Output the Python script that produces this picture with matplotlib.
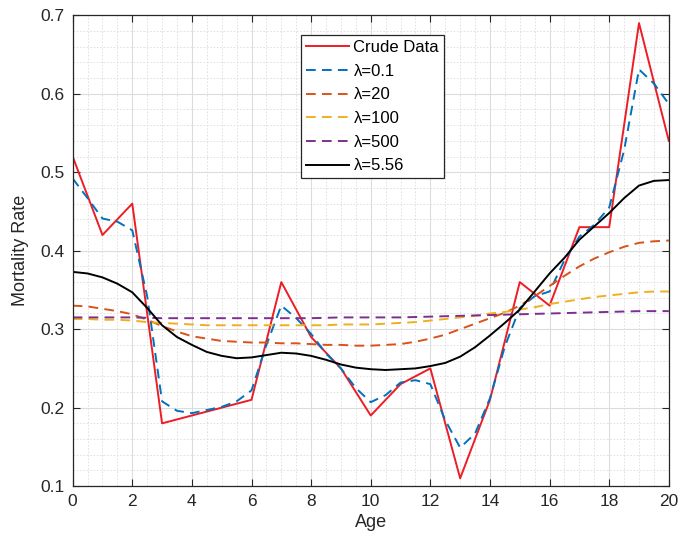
import matplotlib.pyplot as plt
import numpy as np

ages = list(range(0, 21))
crude = [0.52, 0.42, 0.46, 0.18, 0.19, 0.20, 0.21, 0.36, 0.29, 0.25, 0.19,
         0.23, 0.25, 0.11, 0.21, 0.36, 0.33, 0.43, 0.43, 0.69, 0.54]

ages_half = [a / 2 for a in range(0, 41)]
smooth_01 = [0.492, 0.467, 0.441, 0.437, 0.426, 0.342, 0.208, 0.196, 0.193, 0.197,
             0.201, 0.208, 0.222, 0.280, 0.330, 0.314, 0.294, 0.269, 0.250, 0.225,
             0.207, 0.216, 0.232, 0.235, 0.230, 0.184, 0.149, 0.167, 0.212, 0.278,
             0.327, 0.342, 0.348, 0.388, 0.418, 0.433, 0.455, 0.528, 0.631, 0.613,
             0.587]
smooth_20 = [0.330, 0.329, 0.326, 0.323, 0.319, 0.312, 0.304, 0.297, 0.291, 0.288,
             0.285, 0.284, 0.283, 0.283, 0.282, 0.282, 0.281, 0.280, 0.280, 0.279,
             0.279, 0.280, 0.281, 0.284, 0.288, 0.293, 0.300, 0.307, 0.314, 0.321,
             0.330, 0.342, 0.355, 0.368, 0.380, 0.390, 0.398, 0.405, 0.410, 0.412,
             0.413]
smooth_100 = [0.313, 0.313, 0.312, 0.312, 0.311, 0.309, 0.308, 0.307, 0.306, 0.305,
              0.305, 0.305, 0.305, 0.305, 0.305, 0.305, 0.305, 0.305, 0.306, 0.306,
              0.306, 0.307, 0.308, 0.309, 0.311, 0.313, 0.315, 0.317, 0.320, 0.322,
              0.325, 0.328, 0.332, 0.335, 0.338, 0.341, 0.343, 0.345, 0.347, 0.348,
              0.348]
smooth_500 = [0.315, 0.315, 0.315, 0.314, 0.314, 0.314, 0.314, 0.314, 0.314, 0.315,
              0.315, 0.315, 0.316, 0.317, 0.318, 0.319, 0.320, 0.321, 0.322, 0.323,
              0.323]
smooth_556 = [0.373, 0.371, 0.366, 0.358, 0.347, 0.327, 0.305, 0.290, 0.280, 0.271,
              0.266, 0.263, 0.264, 0.267, 0.270, 0.269, 0.266, 0.261, 0.255, 0.251,
              0.249, 0.248, 0.249, 0.250, 0.253, 0.257, 0.265, 0.277, 0.292, 0.308,
              0.325, 0.348, 0.371, 0.391, 0.414, 0.431, 0.448, 0.467, 0.483, 0.489,
              0.490]

plt.rcParams['font.family'] = ['Liberation Sans', 'DejaVu Sans']

fig = plt.figure(figsize=(6.79, 5.45), dpi=100)
ax = fig.add_axes([0.107, 0.108, 0.878, 0.864])

dash = (5, 3.2)
lw = 1.4
ax.plot(ages, crude, color='#ee1c25', lw=lw, label='Crude Data')
ax.plot(ages_half, smooth_01, color='#0072BD', lw=lw, ls='--', dashes=dash, label='λ=0.1')
ax.plot(ages_half, smooth_20, color='#D95319', lw=lw, ls='--', dashes=dash, label='λ=20')
ax.plot(ages_half, smooth_100, color='#EDB120', lw=lw, ls='--', dashes=dash, label='λ=100')
ax.plot(ages, smooth_500, color='#7E2F8E', lw=lw, ls='--', dashes=dash, label='λ=500')
ax.plot(ages_half, smooth_556, color='black', lw=lw, label='λ=5.56')

ax.set_xlim(0, 20)
ax.set_ylim(0.1, 0.7)
ax.set_xticks(np.arange(0, 21, 2))
ax.set_yticks([0.1, 0.2, 0.3, 0.4, 0.5, 0.6, 0.7])
ax.set_xticks(np.arange(0, 20.01, 0.5), minor=True)
ax.set_yticks(np.arange(0.1, 0.701, 0.02), minor=True)

ax.grid(True, which='major', color='#dcdcdc', lw=0.8)
ax.grid(True, which='minor', color='#dcdcdc', lw=0.6, ls=(0, (2, 2)))
ax.set_axisbelow(True)

ax.tick_params(which='major', direction='in', length=5, width=0.8, top=True, right=True,
               labelsize=12.5, colors='#262626', pad=6)
ax.tick_params(which='minor', length=0)
for s in ax.spines.values():
    s.set_color('#262626')
    s.set_linewidth(0.9)

ax.set_xlabel('Age', fontsize=13, color='#262626', labelpad=3)
ax.set_ylabel('Mortality Rate', fontsize=13, color='#262626', labelpad=8)

leg = ax.legend(loc='upper left', bbox_to_anchor=(0.383, 0.958), fontsize=12,
                fancybox=False, framealpha=1, edgecolor='#262626', handlelength=2.6,
                handletextpad=0.25, labelspacing=0.52, borderpad=0.3, borderaxespad=0)
leg.get_frame().set_linewidth(0.9)

plt.savefig('out.png', dpi=100)
